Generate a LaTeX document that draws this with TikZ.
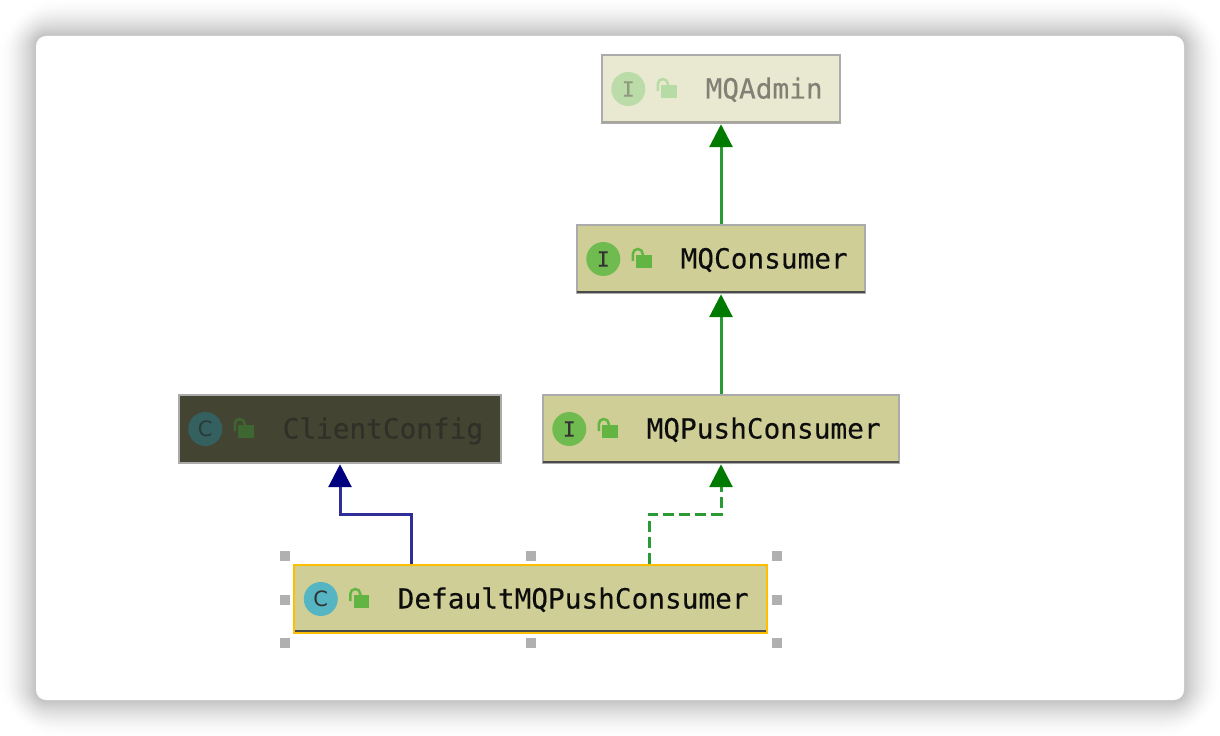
\documentclass[tikz,border=0pt]{standalone}
\usepackage{fontspec}
\setmonofont[FakeBold=0.25]{DejaVu Sans Mono}
\setsansfont{DejaVu Sans}
\usetikzlibrary{arrows.meta,positioning,calc}

\definecolor{boxfill}{HTML}{CECE96}
\definecolor{boxline}{HTML}{ABABAB}
\definecolor{barline}{HTML}{4A4A4A}
\definecolor{fadefill}{HTML}{E9E9D2}
\definecolor{fadebar}{HTML}{A5A59A}
\definecolor{darkfill}{HTML}{444433}
\definecolor{pickline}{HTML}{FFBF00}
\definecolor{implgreen}{HTML}{2A9A34}
\definecolor{tipgreen}{HTML}{007A00}
\definecolor{extnavy}{HTML}{2E2E96}
\definecolor{tipnavy}{HTML}{00007F}
\definecolor{handlegray}{HTML}{B0B0B0}
\definecolor{ballgreen}{HTML}{6FBB4F}
\definecolor{ballfade}{HTML}{BBDBA8}
\definecolor{balldark}{HTML}{34605F}
\definecolor{ballcyan}{HTML}{55B5C2}
\definecolor{lockgreen}{HTML}{62B543}
\definecolor{lockfade}{HTML}{B7DBA4}
\definecolor{lockdark}{HTML}{3D6630}
\definecolor{letterdark}{HTML}{333333}
\definecolor{letterfade}{HTML}{8F9A80}
\definecolor{letternight}{HTML}{2A3A3A}
\definecolor{textfade}{HTML}{808075}
\definecolor{textnight}{HTML}{2F3027}

\tikzset{
    umlbox/.style={draw=boxline, line width=0.05cm, fill=boxfill, minimum height=1.36cm, inner sep=0pt},
    nametext/.style={anchor=base west, inner sep=0pt, font=\ttfamily\fontsize{15.8}{18}\selectfont},
    iconball/.style={circle, minimum size=0.68cm, inner sep=0pt, font=\fontsize{12}{14}\selectfont},
    implements/.style={line width=0.06cm, implgreen, -{Triangle[length=0.46cm,width=0.46cm,color=tipgreen]}},
    extends/.style={line width=0.06cm, extnavy, -{Triangle[length=0.46cm,width=0.46cm,color=tipnavy]}},
}
% ball with letter and open padlock, placed from the west side of a box
\newcommand{\classicon}[6]{
    \begin{scope}[shift={(#1.west)}]
        \node[iconball, fill=#2, text=#4] (#1ball) at (#6+0.5,0) {#3};
        \fill[#5] (#6+33.5,-4) rectangle (#6+49,9);
        \draw[#5, line width=0.05cm] (#6+30,2) -- (#6+30,-5)
              arc[start angle=180, end angle=360, x radius=5, y radius=5] -- (#6+40,-4);
    \end{scope}
}

\begin{document}
\begin{tikzpicture}[x=0.02cm, y=-0.02cm]
    \useasboundingbox (0,0) rectangle (1220,736);
    \fill[white] (0,0) rectangle (1220,736);
    % window shadow
    \foreach \i in {36,35,...,1} {
        \pgfmathsetmacro{\shade}{24*(1-\i/38)^1.7}
        \pgfmathsetmacro{\rad}{0.02*(10+1.4*\i)}
        \fill[black!\shade!white, rounded corners=\rad cm]
              (36-\i,36-\i) rectangle (1184+\i,700+\i);
    }
    \fill[white, rounded corners=0.2cm] (36,36) rectangle (1184,700);

    \node[umlbox, fill=fadefill, minimum width=4.76cm] (admin) at (721,89) {};
    \node[umlbox, minimum width=5.76cm] (consumer) at (721,259) {};
    \node[umlbox, minimum width=7.12cm] (push) at (721,429) {};
    \node[umlbox, fill=darkfill, minimum width=6.44cm] (client) at (340,429) {};
    \node[umlbox, draw=pickline, minimum width=9.46cm] (default) at (530.5,599) {};

    % dark bar under the names
    \draw[fadebar, line width=0.04cm] ([shift={(1,-2)}]admin.south west) -- ([shift={(-1,-2)}]admin.south east);
    \draw[barline, line width=0.04cm] ([shift={(1,-2)}]consumer.south west) -- ([shift={(-1,-2)}]consumer.south east);
    \draw[barline, line width=0.04cm] ([shift={(1,-2)}]push.south west) -- ([shift={(-1,-2)}]push.south east);
    \draw[barline, line width=0.04cm] ([shift={(2,-3)}]default.south west) -- ([shift={(-2,-3)}]default.south east);

    \classicon{admin}{ballfade}{\ttfamily I}{letterfade}{lockfade}{27}
    \classicon{consumer}{ballgreen}{\ttfamily I}{letterdark}{lockgreen}{27}
    \classicon{push}{ballgreen}{\ttfamily I}{letterdark}{lockgreen}{27}
    \classicon{client}{balldark}{\sffamily C}{letternight}{lockdark}{27}
    \classicon{default}{ballcyan}{\sffamily C}{letterdark}{lockgreen}{27.5}

    \node[nametext, text=textfade] (adminname) at ([shift={(104.5,9.5)}]admin.west) {MQAdmin};
    \node[nametext, text=black!95] (consumername) at ([shift={(104.5,9.5)}]consumer.west) {MQConsumer};
    \node[nametext, text=black!95] (pushname) at ([shift={(104.5,9.5)}]push.west) {MQPushConsumer};
    \node[nametext, text=textnight] (clientname) at ([shift={(104.5,9.5)}]client.west) {ClientConfig};
    \node[nametext, text=black!95] (defaultname) at ([shift={(104.5,9.5)}]default.west) {DefaultMQPushConsumer};

    \coordinate (tapclient) at (411,564);
    \coordinate (bendclient) at (411,514);
    \coordinate (tappush) at (649,564);
    \coordinate (bendpush) at (649,514);

    \draw[implements] (consumer) -- (admin);
    \draw[implements] (push) -- (consumer);
    \draw[extends] (tapclient) -- (bendclient) -| (client);
    \draw[implements, dash pattern=on 0.22cm off 0.1cm] (tappush) -- (bendpush) -| (push);

    % selection handles
    \foreach \hx/\hy in {285/556,531/556,777/556,285/600,777/600,285/643,531/643,777/643}
        \fill[handlegray] (\hx-5,\hy-5) rectangle (\hx+5,\hy+5);
\end{tikzpicture}
\end{document}
